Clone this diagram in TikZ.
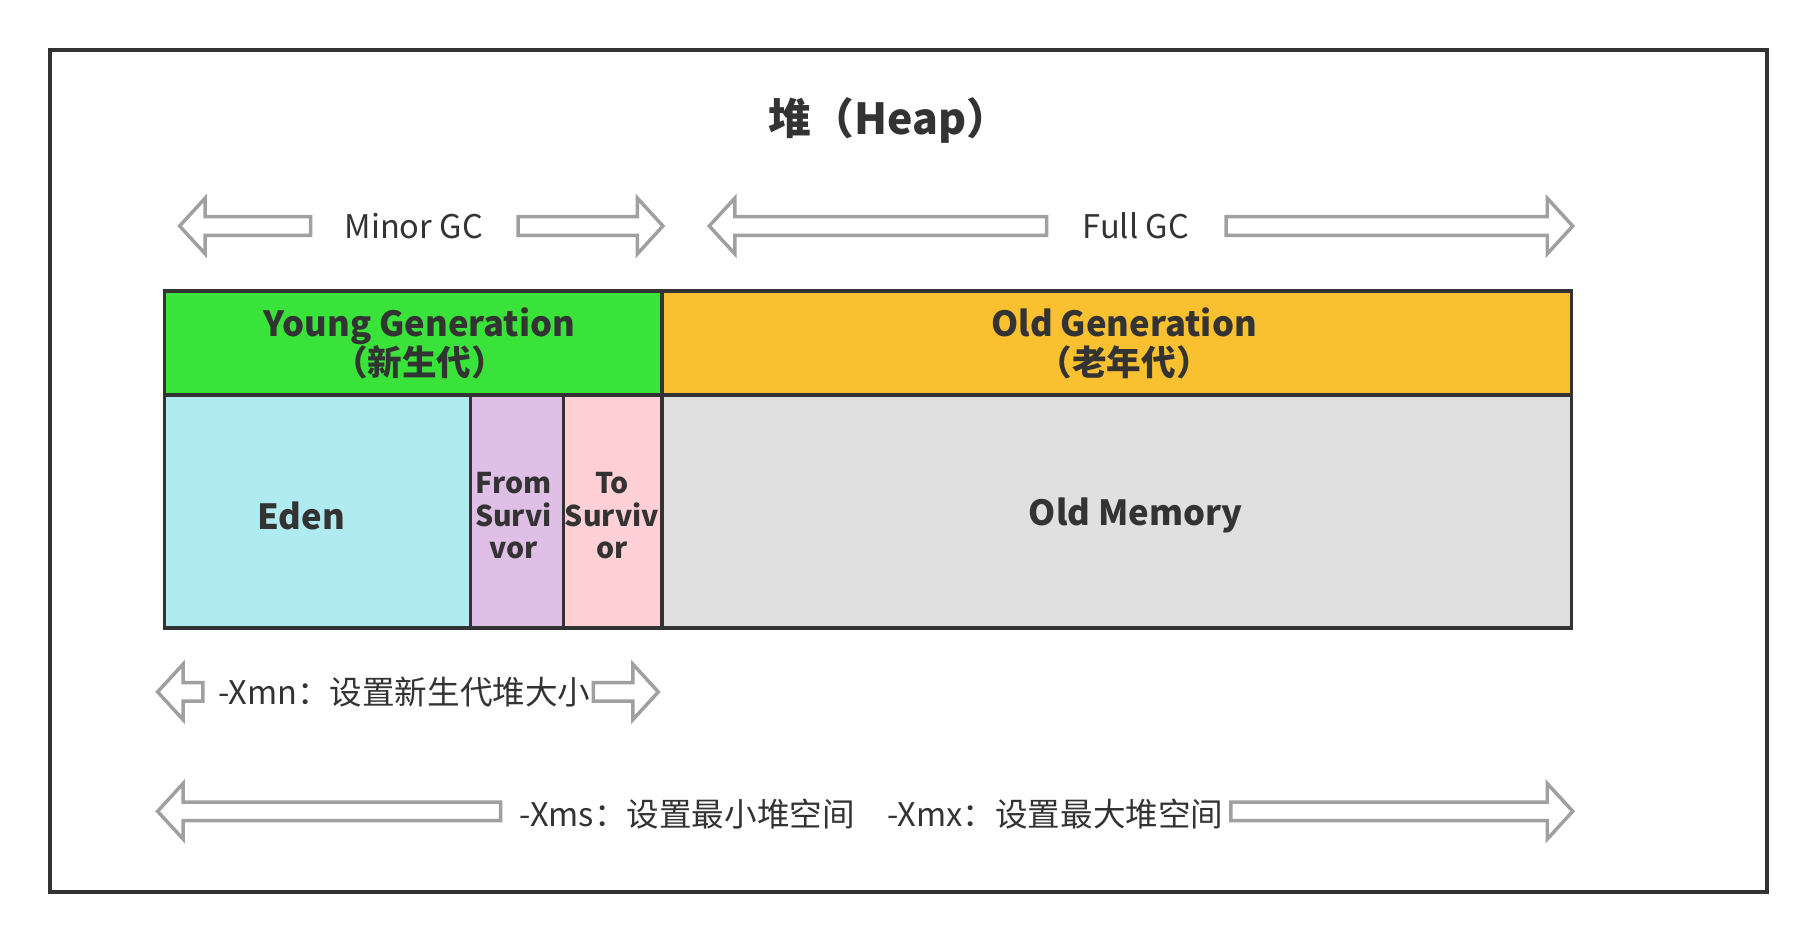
\documentclass[tikz,border=0pt]{standalone}
\usepackage{fontspec}
\setmainfont{Noto Sans CJK SC}
\definecolor{framegray}{HTML}{333333}
\definecolor{arrowgray}{HTML}{A0A0A0}
\definecolor{younggreen}{HTML}{3AE33A}
\definecolor{oldorange}{HTML}{F9C02F}
\definecolor{edenblue}{HTML}{B0EBF2}
\definecolor{fromviolet}{HTML}{DFBFE6}
\definecolor{topink}{HTML}{FFD0D5}
\definecolor{oldgray}{HTML}{E0E0E0}
\tikzset{
  garrow/.style={draw=arrowgray, line width=0.06cm, fill=white},
  region/.style={draw=framegray, line width=0.06cm},
  lbl/.style={text=framegray, font=\fontsize{16}{18}\selectfont},
  blbl/.style={text=framegray, font=\fontsize{17}{19}\selectfont\bfseries, align=center},
}
% hollow arrows: start x, end x (tip), y
\newcommand\rarrow[3]{\draw[garrow] (#1,{#3-8}) -- ({#2-22},{#3-8}) -- ({#2-22},{#3-24}) -- (#2,#3) -- ({#2-22},{#3+24}) -- ({#2-22},{#3+8}) -- (#1,{#3+8}) -- cycle;}
\newcommand\larrow[3]{\draw[garrow] (#1,{#3-8}) -- ({#2+22},{#3-8}) -- ({#2+22},{#3-24}) -- (#2,#3) -- ({#2+22},{#3+24}) -- ({#2+22},{#3+8}) -- (#1,{#3+8}) -- cycle;}
\begin{document}
\begin{tikzpicture}[x=0.02cm, y=-0.02cm]
\useasboundingbox (0,0) rectangle (1560,809.3);
\fill[white] (0,0) rectangle (1560,809.3);
\draw[framegray, line width=0.07cm] (43,43) rectangle (1525,770);

\node[blbl, font=\fontsize{21}{24}\selectfont\bfseries] (title) at (767,104) {堆（Heap）};

%GC arrows
\larrow{268}{155}{195}
\node[lbl] (minor) at (357,195) {Minor GC};
\rarrow{447}{572}{195}
\larrow{903}{612}{195}
\node[lbl] (full) at (980,195) {Full GC};
\rarrow{1058}{1357}{195}

%generations
\draw[region, fill=younggreen] (142,251) rectangle (571,341);
\draw[region, fill=oldorange] (571,251) rectangle (1356,341);
\node[blbl] (young) at (362,296) {Young Generation\\（新生代）};
\node[blbl] (old) at (970,296) {Old Generation\\（老年代）};

%memory areas
\draw[region, fill=edenblue] (142,341) rectangle (406,542);
\draw[region, fill=fromviolet] (406,341) rectangle (486,542);
\draw[region, fill=topink] (486,341) rectangle (571,542);
\draw[region, fill=oldgray] (571,341) rectangle (1356,542);
\node[blbl] (eden) at (260,445) {Eden};
\node[blbl, font=\fontsize{14}{16}\selectfont\bfseries] (from) at (443,445) {From\\Survi\\vor};
\node[blbl, font=\fontsize{14}{16}\selectfont\bfseries] (to) at (528,445) {To\\Surviv\\or};
\node[blbl] (oldmem) at (980,445) {Old Memory};

%options
\larrow{175}{136}{597}
\node[lbl, anchor=west] (xmn) at (182,597) {-Xmn：设置新生代堆大小};
\rarrow{512}{568}{597}
\larrow{432}{136}{700}
\node[lbl] (xms) at (752,702) {-Xms：设置最小堆空间\quad -Xmx：设置最大堆空间};
\rarrow{1062}{1357}{700}
\end{tikzpicture}
\end{document}
